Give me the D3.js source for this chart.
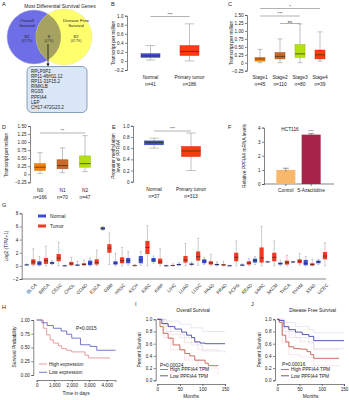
<!DOCTYPE html>
<html>
<head>
<meta charset="utf-8">
<script src="https://cdn.jsdelivr.net/npm/d3@7"></script>
<style>
body { margin: 0; background: #fff; }
text { font-family: "Liberation Sans", Arial, sans-serif; fill: #222; }
.axis path, .axis line { stroke: #333; stroke-width: 0.6; }
.axis text { font-size: 4.6px; fill: #222; }
.lbl { font-size: 4.8px; }
.panel { font-size: 5.6px; }
</style>
</head>
<body>
<div id="chart"></div>
<script>
// ---- data ----
const vennSets = ["Overall Survival", "Disease Free Survival"]
const vennCounts = [82, 8, 82]
const vennPct = ["47.7%", "4.7%", "47.7%"]
const genes = ["RPLP0P2", "RP11-46H11.12", "RP11-31F15.2", "RIMKLB", "RGS5", "PPFIA4", "LEP", "CH17-472G23.2"]

// box stats: [whiskerLow, q1, median, q3, whiskerHigh]
const bCats = ["Normal", "Primary tumor"]
const bN = [41, 286]
const bStats = [[0.02, 0.08, 0.11, 0.16, 0.34], [0.0, 0.12, 0.21, 0.34, 0.82]]

const cCats = ["Stage1", "Stage2", "Stage3", "Stage4"]
const cN = [45, 110, 80, 39]
const cStats = [[0.0, 0.05, 0.12, 0.17, 0.42], [0.0, 0.12, 0.2, 0.32, 0.75], [0.0, 0.17, 0.28, 0.57, 1.22], [0.05, 0.12, 0.25, 0.4, 0.97]]
const cSig = [[0, 3, "*"], [0, 2, "***"], [1, 2, "ns"]]

const dCats = ["N0", "N1", "N2"]
const dN = [166, 70, 47]
const dStats = [[0.02, 0.12, 0.22, 0.33, 0.67], [0.05, 0.17, 0.27, 0.45, 0.82], [0.08, 0.22, 0.33, 0.57, 1.2]]

const eCats = ["Normal", "Primary tumor"]
const eN = [37, 313]
const eStats = [[0.6, 0.66, 0.7, 0.73, 0.78], [0.2, 0.45, 0.55, 0.63, 0.87]]

const fCats = ["Control", "5-Azacitidine"]
const fVals = [1.0, 3.5]
const fErr = [0.12, 0.07]

const gCats = ["BLCA", "BRCA", "CESC", "CHOL", "COAD", "ESCA", "GBM", "HNSC", "KICH", "KIRC", "KIRP", "LIHC",
    "LUAD", "LUSC", "PAAD", "PRAD", "PCPG", "READ", "SARC", "SKCM", "THCA", "THYM", "STAD", "UCEC"]
const gNormal = [
    [0.05, 0.1, 0.15, 0.2, 0.3], [0, 0.1, 0.4, 0.7, 1.4], [0.2, 0.3, 0.45, 0.6, 0.8], [0, 0, 0.02, 0.05, 0.1],
    [0, 0.05, 0.1, 0.2, 0.7], [0, 0.1, 0.4, 0.8, 1.2], [5.4, 5.5, 5.7, 5.9, 6.0], [0, 0.2, 0.4, 0.7, 1.9],
    [0.1, 0.4, 0.8, 1.2, 2.2], [0.1, 0.4, 0.9, 1.5, 2.2], [0.4, 0.6, 0.9, 1.2, 1.5], [0, 0, 0.02, 0.05, 0.1],
    [0, 0.1, 0.2, 0.3, 0.5], [0, 0.15, 0.25, 0.35, 0.6], [0.2, 0.4, 0.7, 1.0, 1.3], [0, 0.1, 0.2, 0.3, 0.6],
    [0, 0, 0.02, 0.05, 0.1], [0, 0.05, 0.1, 0.2, 0.3], [0.2, 0.5, 0.8, 1.1, 1.4], [0.5, 0.55, 0.6, 0.65, 0.7],
    [0, 0.2, 0.35, 0.5, 0.8], [0.5, 0.55, 0.6, 0.65, 0.7], [0, 0.1, 0.4, 0.9, 1.4], [0.2, 0.4, 0.6, 0.8, 1.0]]
const gTumor = [
    [0, 0.2, 0.6, 1.0, 2.6], [0, 0.3, 0.8, 1.2, 3.0], [0, 0.7, 1.2, 1.8, 3.6], [0, 0.1, 0.3, 0.6, 1.3],
    [0, 0.1, 0.2, 0.4, 0.9], [0, 0.2, 0.5, 1.0, 2.4], [0.2, 2.0, 2.7, 3.3, 5.0], [0, 0.4, 0.8, 1.3, 2.8],
    [0, 0, 0.03, 0.08, 0.2], [0, 1.8, 2.8, 3.8, 6.1], [0, 0.3, 0.6, 1.1, 2.6], [0, 0, 0.05, 0.1, 0.3],
    [0, 0.5, 0.9, 1.5, 3.4], [0.1, 0.8, 1.4, 2.2, 4.2], [0, 0.2, 0.45, 0.7, 1.8], [0, 0.05, 0.15, 0.25, 0.7],
    [0, 0.7, 1.3, 2.0, 3.8], [0, 0.2, 0.4, 0.7, 1.1], [0, 0.5, 1.2, 2.8, 6.0], [0, 0.7, 1.3, 2.0, 3.8],
    [0, 0.2, 0.5, 0.8, 1.6], [0.1, 0.4, 0.7, 1.0, 1.9], [0, 0.05, 0.2, 0.4, 1.0], [0, 1.0, 1.5, 2.1, 3.5]]

// survival curves: [time, survival]
const hHigh = [[0, 1], [380, 0.85], [570, 0.73], [760, 0.64], [950, 0.58], [1240, 0.53], [1430, 0.48], [1710, 0.45],
    [2000, 0.42], [2760, 0.36], [2950, 0.31], [4190, 0.31]]
const hLow = [[0, 1], [300, 0.95], [600, 0.9], [950, 0.85], [1400, 0.8], [1710, 0.74], [2000, 0.67], [2500, 0.55],
    [3050, 0.52], [3430, 0.45], [4500, 0.45]]
const hP = "P=0.0015"

const iHigh = [[0, 1], [6, 0.88], [13, 0.77], [24, 0.69], [35, 0.58], [50, 0.5], [61, 0.44], [72, 0.4], [83, 0.33],
    [106, 0.28], [113, 0.24], [135, 0.24]]
const iLow = [[0, 1], [10, 0.93], [24, 0.88], [39, 0.84], [54, 0.79], [65, 0.74], [76, 0.7], [83, 0.63], [95, 0.61],
    [106, 0.6], [150, 0.6]]
const iHighBand = [[[0, 1], [15, 0.9], [30, 0.75], [60, 0.62], [90, 0.5], [135, 0.45]],
    [[0, 1], [15, 0.7], [30, 0.5], [60, 0.33], [90, 0.2], [135, 0.1]]]
const iLowBand = [[[0, 1], [20, 0.97], [50, 0.92], [75, 0.86], [100, 0.8], [150, 0.8]],
    [[0, 1], [20, 0.8], [50, 0.7], [75, 0.58], [100, 0.48], [150, 0.45]]]
const iP = "P=0.00024"

const jHigh = [[0, 1], [4, 0.95], [11, 0.74], [19, 0.63], [26, 0.55], [37, 0.52], [52, 0.51], [67, 0.47], [75, 0.42],
    [82, 0.36], [139, 0.36]]
const jLow = [[0, 1], [4, 0.98], [15, 0.88], [26, 0.83], [41, 0.79], [56, 0.75], [71, 0.72], [82, 0.65], [150, 0.65]]
const jHighBand = [[[0, 1], [11, 0.86], [26, 0.7], [52, 0.63], [82, 0.5], [139, 0.5]],
    [[0, 1], [11, 0.62], [26, 0.42], [52, 0.38], [82, 0.24], [139, 0.22]]]
const jLowBand = [[[0, 1], [15, 0.95], [41, 0.88], [71, 0.83], [82, 0.78], [150, 0.78]],
    [[0, 1], [15, 0.8], [41, 0.7], [71, 0.61], [82, 0.52], [150, 0.5]]]
const jP = "P=0.00016"

// ---- drawing ----
const width = 349
const height = 400

const svg = d3.select("#chart")
    .append("svg")
    .attr("width", width)
    .attr("height", height)

function panelLetter(t, x, y) {
    svg.append("text").attr("class", "panel").attr("x", x).attr("y", y).text(t)
}

function yTitle(lines, x, y) {
    const t = svg.append("text")
        .attr("class", "lbl")
        .attr("transform", `translate(${x},${y}) rotate(-90)`)
        .attr("text-anchor", "middle")
    lines.forEach((l, i) => t.append("tspan").attr("x", 0).attr("dy", i ? "1.1em" : 0).text(l))
}

function fmtTick(dec) {
    return d => d === 0 ? "0" : d3.format("." + dec + "f")(d)
}

// generic box panel
function boxPanel(o) {
    const g = svg.append("g")
    const y = d3.scaleLinear().domain(o.domain).range([o.yBottom, o.yTop])
    const x = d3.scalePoint().domain(o.cats).range([o.xStart, o.xEnd])

    g.append("g")
        .attr("class", "axis")
        .attr("transform", `translate(${o.axisX},0)`)
        .call(d3.axisLeft(y).tickValues(o.ticks).tickFormat(o.fmt).tickSize(2).tickPadding(1.5))

    const boxes = g.selectAll(".box")
        .data(o.stats)
        .join("g")
        .attr("transform", (d, i) => `translate(${x(o.cats[i])},0)`)

    boxes.append("line")
        .attr("y1", d => y(d[0])).attr("y2", d => y(d[4]))
        .attr("stroke", "#999").attr("stroke-width", 0.6)
    boxes.append("line")
        .attr("x1", -o.boxW / 4).attr("x2", o.boxW / 4)
        .attr("y1", d => y(d[4])).attr("y2", d => y(d[4]))
        .attr("stroke", "#999").attr("stroke-width", 0.6)
    boxes.append("line")
        .attr("x1", -o.boxW / 4).attr("x2", o.boxW / 4)
        .attr("y1", d => y(d[0])).attr("y2", d => y(d[0]))
        .attr("stroke", "#999").attr("stroke-width", 0.6)
    boxes.append("rect")
        .attr("x", -o.boxW / 2).attr("width", o.boxW)
        .attr("y", d => y(d[3])).attr("height", d => Math.max(0.6, y(d[1]) - y(d[3])))
        .attr("fill", (d, i) => o.colors[i])
        .attr("stroke", (d, i) => d3.color(o.colors[i]).darker(0.5))
        .attr("stroke-width", 0.5)
    boxes.append("line")
        .attr("x1", -o.boxW / 2).attr("x2", o.boxW / 2)
        .attr("y1", d => y(d[2])).attr("y2", d => y(d[2]))
        .attr("stroke", "#3a2a10").attr("stroke-width", 0.7)

    const labels = g.selectAll(".catlab")
        .data(o.cats)
        .join("text")
        .attr("class", "lbl")
        .attr("text-anchor", "middle")
        .attr("x", d => x(d))
        .attr("y", o.labelY)
    labels.append("tspan").attr("x", d => x(d)).text(d => d)
    labels.append("tspan").attr("x", d => x(d)).attr("dy", "1.5em").text((d, i) => "n=" + o.n[i])

    o.sig.forEach(s => {
        const x1 = x(o.cats[s[0]]), x2 = x(o.cats[s[1]])
        g.append("line")
            .attr("x1", x1).attr("x2", x2).attr("y1", s[3]).attr("y2", s[3])
            .attr("stroke", "#666").attr("stroke-width", 0.5)
        g.append("text")
            .attr("class", "lbl")
            .attr("text-anchor", "middle")
            .attr("x", (x1 + x2) / 2).attr("y", s[3] - 1)
            .style("font-size", "4.4px")
            .text(s[2])
    })
}

// ---- A: venn ----
panelLetter("A", 2, 6)
svg.append("text").attr("class", "lbl").attr("x", 60).attr("y", 7.5).attr("text-anchor", "middle")
    .style("font-size", "5px").text("Most Differential Survival Genes")

const vennL = { cx: 34, cy: 37, r: 27 }
const vennR = { cx: 64, cy: 37, r: 28 }
const defs = svg.append("defs")
defs.append("clipPath").attr("id", "clipL")
    .append("circle").attr("cx", vennL.cx).attr("cy", vennL.cy).attr("r", vennL.r)

svg.append("circle").attr("cx", vennL.cx).attr("cy", vennL.cy).attr("r", vennL.r)
    .attr("fill", "#6e6ee6").attr("stroke", "#b7b7d8").attr("stroke-width", 0.5)
svg.append("circle").attr("cx", vennR.cx).attr("cy", vennR.cy).attr("r", vennR.r)
    .attr("fill", "#ffff6e").attr("stroke", "#e4e0a0").attr("stroke-width", 0.5)
svg.append("circle").attr("cx", vennR.cx).attr("cy", vennR.cy).attr("r", vennR.r)
    .attr("clip-path", "url(#clipL)")
    .attr("fill", "#a6a262")

function vennText(lines, x, y) {
    const t = svg.append("text").attr("class", "lbl").attr("text-anchor", "middle").attr("y", y)
        .style("font-size", "4.4px")
    lines.forEach((l, i) => t.append("tspan").attr("x", x).attr("dy", i ? "1.15em" : 0).text(l))
}
vennText(["Overall", "Survival"], 27, 22)
vennText(["Disease Free", "Survival"], 76, 22)
vennText([vennCounts[0]], 27, 37.5)
vennText([vennCounts[1]], 49, 37.5)
vennText([vennCounts[2]], 76, 37.5)
svg.append("g").selectAll("text").data(vennPct).join("text")
    .attr("class", "lbl").attr("text-anchor", "middle")
    .attr("x", (d, i) => [27, 49, 76][i]).attr("y", 41.5)
    .style("font-size", "3px").text(d => "(" + d + ")")

svg.append("defs").append("marker").attr("id", "arr").attr("viewBox", "0 0 10 10")
    .attr("refX", 5).attr("refY", 5).attr("markerWidth", 4).attr("markerHeight", 4).attr("orient", "auto")
    .append("path").attr("d", "M0,0L10,5L0,10z").attr("fill", "#111")
svg.append("line").attr("x1", 48).attr("x2", 48).attr("y1", 44).attr("y2", 65)
    .attr("stroke", "#111").attr("stroke-width", 0.8).attr("marker-end", "url(#arr)")

svg.append("rect").attr("x", 27).attr("y", 66.5).attr("width", 60).attr("height", 46).attr("rx", 5)
    .attr("fill", "#d9e7f6").attr("stroke", "#5b7a9a").attr("stroke-width", 0.7)
svg.append("g").selectAll("text").data(genes).join("text")
    .attr("class", "lbl").attr("x", 31).attr("y", (d, i) => 72.5 + i * 5.2)
    .style("font-size", "4.5px").text(d => d)

// ---- B ----
panelLetter("B", 111, 6)
yTitle(["Transcript per million"], 115, 43)
boxPanel({
    cats: bCats, n: bN, stats: bStats, colors: ["#3f4fd4", "#ff3a10"],
    domain: [-0.2, 1.0], yTop: 15.7, yBottom: 70, ticks: [-0.2, 0, 0.2, 0.4, 0.6, 0.8, 1.0], fmt: fmtTick(1),
    axisX: 127, xStart: 150.5, xEnd: 189.5, boxW: 19, labelY: 78.5,
    sig: [[0, 1, "***", 16.5]]
})

// ---- C ----
panelLetter("C", 228, 6)
yTitle(["Transcript per million"], 233, 43)
boxPanel({
    cats: cCats, n: cN, stats: cStats, colors: ["#f5820a", "#c8682a", "#b4e010", "#ff3a10"],
    domain: [-0.25, 1.5], yTop: 15, yBottom: 70.7, ticks: [-0.25, 0, 0.25, 0.5, 0.75, 1.0, 1.25, 1.5], fmt: fmtTick(2),
    axisX: 247, xStart: 260, xEnd: 320, boxW: 10, labelY: 78.5,
    sig: cSig.map((s, i) => [s[0], s[1], s[2], [8.5, 16, 23.5][i]])
})

// ---- D ----
panelLetter("D", 2, 129)
yTitle(["Transcript per million"], 8, 155)
boxPanel({
    cats: dCats, n: dN, stats: dStats, colors: ["#f5820a", "#c8682a", "#b4e010"],
    domain: [-0.25, 1.5], yTop: 126, yBottom: 182.3, ticks: [-0.25, 0, 0.25, 0.5, 0.75, 1.0, 1.25, 1.5], fmt: fmtTick(2),
    axisX: 30, xStart: 40, xEnd: 85, boxW: 11, labelY: 192,
    sig: [[0, 2, "**", 133]]
})

// ---- E ----
panelLetter("E", 112, 129)
yTitle(["Promoter methylation", "level of PPFIA4"], 115, 156)
boxPanel({
    cats: eCats, n: eN, stats: eStats, colors: ["#3f4fd4", "#ff3a10"],
    domain: [0, 1.0], yTop: 125.8, yBottom: 181.7, ticks: [0, 0.2, 0.4, 0.6, 0.8, 1.0], fmt: fmtTick(1),
    axisX: 133, xStart: 154, xEnd: 191, boxW: 19, labelY: 190.5,
    sig: [[0, 1, "***", 131]]
})

// ---- F ----
panelLetter("F", 228, 129)
svg.append("text").attr("class", "lbl").attr("x", 290).attr("y", 131).attr("text-anchor", "middle").text("HCT116")
yTitle(["Relative PPFIA4 mRNA levels"], 246, 156)
{
    const y = d3.scaleLinear().domain([0, 4]).range([184, 127.6])
    const x = d3.scaleBand().domain(fCats).range([270, 327]).paddingInner(0.25).paddingOuter(0.25)
    const g = svg.append("g")
    g.append("g").attr("class", "axis").attr("transform", "translate(264,0)")
        .call(d3.axisLeft(y).ticks(4).tickSize(2).tickPadding(1.5))
    g.append("g").attr("class", "axis").attr("transform", "translate(0,184)")
        .call(d3.axisBottom(x).tickSize(2).tickPadding(2.5).tickSizeOuter(0))
        .call(a => a.select(".domain").attr("d", "M264,0H334"))
        .selectAll("text").style("font-size", "4.8px")
    const fColors = ["#f8b86c", "#a8234a"]
    g.selectAll("rect.bar").data(fVals).join("rect")
        .attr("x", (d, i) => x(fCats[i])).attr("width", x.bandwidth())
        .attr("y", d => y(d)).attr("height", d => 184 - y(d))
        .attr("fill", (d, i) => fColors[i])
    g.selectAll("line.err").data(fVals).join("line")
        .attr("x1", (d, i) => x(fCats[i]) + x.bandwidth() / 2).attr("x2", (d, i) => x(fCats[i]) + x.bandwidth() / 2)
        .attr("y1", (d, i) => y(d + fErr[i])).attr("y2", (d, i) => y(d - fErr[i]))
        .attr("stroke", "#555").attr("stroke-width", 0.6)
    g.selectAll("line.cap").data(fVals).join("line")
        .attr("x1", (d, i) => x(fCats[i]) + x.bandwidth() / 2 - 3).attr("x2", (d, i) => x(fCats[i]) + x.bandwidth() / 2 + 3)
        .attr("y1", (d, i) => y(d + fErr[i])).attr("y2", (d, i) => y(d + fErr[i]))
        .attr("stroke", "#555").attr("stroke-width", 0.6)
    g.append("text").attr("class", "lbl").attr("text-anchor", "middle")
        .attr("x", x(fCats[1]) + x.bandwidth() / 2).attr("y", y(fVals[1] + fErr[1]) - 1)
        .style("font-size", "4.4px").text("***")
}

// ---- G ----
panelLetter("G", 2, 207)
yTitle(["Log2 (TPM+1)"], 8, 246)
{
    const y = d3.scaleLinear().domain([-2, 8]).range([279, 213.3])
    const x = d3.scalePoint().domain(gCats).range([30, 321.7])
    const g = svg.append("g")
    g.append("g").attr("class", "axis").attr("transform", "translate(21.7,0)")
        .call(d3.axisLeft(y).tickValues([-2, 0, 2, 4, 6, 8]).tickSize(2).tickPadding(1.5))
    g.append("g").attr("class", "axis").attr("transform", "translate(0,279)")
        .call(d3.axisBottom(x).tickSize(0).tickPadding(3))
        .call(a => a.select(".domain").attr("d", "M21.7,0H326"))
        .selectAll("text")
        .attr("text-anchor", "end")
        .attr("transform", "translate(2,2) rotate(-45)")
        .style("font-size", "4.6px")

    const bw = 4.2
    const series = [{ stats: gNormal, off: -3.3, color: "#3f4fd4" }, { stats: gTumor, off: 3.3, color: "#ee3a22" }]
    series.forEach(s => {
        const b = g.append("g").selectAll("g").data(s.stats).join("g")
            .attr("transform", (d, i) => `translate(${x(gCats[i]) + s.off},0)`)
        b.append("line").attr("y1", d => y(d[0])).attr("y2", d => y(d[4]))
            .attr("stroke", "#999").attr("stroke-width", 0.5)
        b.append("line").attr("x1", -1).attr("x2", 1).attr("y1", d => y(d[4])).attr("y2", d => y(d[4]))
            .attr("stroke", "#999").attr("stroke-width", 0.5)
        b.append("line").attr("x1", -1).attr("x2", 1).attr("y1", d => y(d[0])).attr("y2", d => y(d[0]))
            .attr("stroke", "#999").attr("stroke-width", 0.5)
        b.append("rect").attr("x", -bw / 2).attr("width", bw)
            .attr("y", d => y(d[3])).attr("height", d => Math.max(0.7, y(d[1]) - y(d[3])))
            .attr("fill", s.color)
        b.append("line").attr("x1", -bw / 2).attr("x2", bw / 2).attr("y1", d => y(d[2])).attr("y2", d => y(d[2]))
            .attr("stroke", "#222").attr("stroke-width", 0.6)
    })

    const leg = g.append("g").attr("transform", "translate(38,216)")
    ;[["Normal", "#3f4fd4"], ["Tumor", "#ee3a22"]].forEach((l, i) => {
        leg.append("rect").attr("x", 0).attr("y", i * 10 - 1.5).attr("width", 8).attr("height", 3).attr("fill", l[1])
        leg.append("text").attr("class", "lbl").attr("x", 12).attr("y", i * 10 + 1.7).style("font-size", "4.8px").text(l[0])
    })
}

// ---- survival helper ----
function survPanel(o) {
    const g = svg.append("g")
    const x = d3.scaleLinear().domain(o.xDomain).range(o.xRange)
    const y = d3.scaleLinear().domain([0, 1]).range([o.y0, o.y1])
    g.append("g").attr("class", "axis").attr("transform", `translate(${o.axisX},0)`)
        .call(d3.axisLeft(y).tickValues(o.yTicks).tickFormat(o.yFmt).tickSize(2).tickPadding(1.5))
    g.append("g").attr("class", "axis").attr("transform", `translate(0,${o.axisY})`)
        .call(d3.axisBottom(x).tickValues(o.xTicks).tickSize(2).tickPadding(2))
    const line = d3.line().x(d => x(d[0])).y(d => y(d[1])).curve(d3.curveStepAfter)
    ;(o.bands || []).forEach(b => {
        g.append("path").attr("d", line(b.pts)).attr("fill", "none")
            .attr("stroke", b.color).attr("stroke-width", 0.5)
    })
    o.curves.forEach(c => {
        g.append("path").attr("d", line(c.pts)).attr("fill", "none")
            .attr("stroke", c.color).attr("stroke-width", 0.8)
    })
    g.append("text").attr("class", "lbl").attr("x", o.pPos[0]).attr("y", o.pPos[1]).text(o.p)
    o.curves.forEach((c, i) => {
        const ly = o.legY + i * o.legGap
        g.append("line").attr("x1", o.legX).attr("x2", o.legX + 8).attr("y1", ly).attr("y2", ly)
            .attr("stroke", c.color).attr("stroke-width", 0.8)
        g.append("text").attr("class", "lbl").attr("x", o.legX + 10).attr("y", ly + 1.7).text(c.name)
    })
    g.append("text").attr("class", "lbl").attr("text-anchor", "middle")
        .attr("x", (o.xRange[0] + o.xRange[1]) / 2).attr("y", o.xTitleY).text(o.xTitle)
    if (o.title) {
        g.append("text").attr("class", "lbl").attr("text-anchor", "middle")
            .attr("x", (o.xRange[0] + o.xRange[1]) / 2 + 2).attr("y", o.y1 - 7).text(o.title)
    }
}

// ---- H ----
panelLetter("H", 2, 309)
yTitle(["Survival Probability"], 16, 347)
survPanel({
    xDomain: [0, 4500], xRange: [36.7, 115.5], y0: 375, y1: 320, axisX: 33.3, axisY: 380,
    yTicks: [0, 0.25, 0.5, 0.75, 1], yFmt: d3.format(".2f"), xTicks: [0, 1000, 2000, 3000, 4000],
    curves: [{ pts: hHigh, color: "#e08585", name: "High expression" }, { pts: hLow, color: "#5656c4", name: "Low expression" }],
    p: hP, pPos: [76, 330], legX: 39, legY: 364, legGap: 8.3, xTitle: "Time in days", xTitleY: 394.5
})

// ---- I ----
panelLetter("I", 135, 306)
yTitle(["Percent Survival"], 141, 350)
survPanel({
    xDomain: [0, 150], xRange: [157.3, 225], y0: 380.3, y1: 319.3, axisX: 155.7, axisY: 384,
    yTicks: [0, 0.2, 0.4, 0.6, 0.8, 1], yFmt: d3.format(".1f"), xTicks: [0, 50, 100, 150],
    bands: [
        { pts: iLowBand[0], color: "#d0d0ee" }, { pts: iLowBand[1], color: "#d0d0ee" },
        { pts: iHighBand[0], color: "#f2cccc" }, { pts: iHighBand[1], color: "#f2cccc" }],
    curves: [{ pts: iHigh, color: "#c24a40", name: "High PPFIA4 TPM" }, { pts: iLow, color: "#2e2e9e", name: "Low PPFIA4 TPM" }],
    p: iP, pPos: [160, 366.5], legX: 160, legY: 369.5, legGap: 6.3, xTitle: "Months", xTitleY: 398,
    title: "Overall Survival"
})

// ---- J ----
panelLetter("J", 251, 306)
yTitle(["Percent Survival"], 261, 350)
survPanel({
    xDomain: [0, 150], xRange: [277.3, 344], y0: 380.3, y1: 319.3, axisX: 275, axisY: 384,
    yTicks: [0, 0.2, 0.4, 0.6, 0.8, 1], yFmt: d3.format(".1f"), xTicks: [0, 50, 100, 150],
    bands: [
        { pts: jLowBand[0], color: "#d0d0ee" }, { pts: jLowBand[1], color: "#d0d0ee" },
        { pts: jHighBand[0], color: "#f2cccc" }, { pts: jHighBand[1], color: "#f2cccc" }],
    curves: [{ pts: jHigh, color: "#c24a40", name: "High PPFIA4 TPM" }, { pts: jLow, color: "#2e2e9e", name: "Low PPFIA4 TPM" }],
    p: jP, pPos: [282, 365.5], legX: 281, legY: 369.5, legGap: 6.3, xTitle: "Months", xTitleY: 398,
    title: "Disease Free Survival"
})
</script>
</body>
</html>
